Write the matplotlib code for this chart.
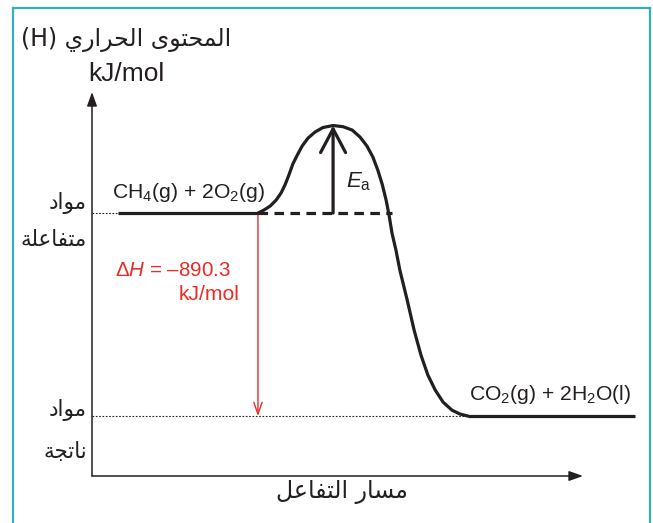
import matplotlib
matplotlib.use("Agg")
import matplotlib.pyplot as plt
from matplotlib.patches import FancyArrowPatch
from matplotlib.lines import Line2D

plt.rcParams["font.family"] = ["Liberation Sans", "DejaVu Sans"]
plt.rcParams["mathtext.fontset"] = "custom"
plt.rcParams["mathtext.rm"] = "Liberation Sans"
plt.rcParams["mathtext.it"] = "Liberation Sans:italic"

# energy levels (kJ/mol, reactants = 0)
E_REACT = 0.0
E_PROD = -890.3
# reaction progress (0-10) of the flat parts
REACT_X = [0.53, 3.38]
PROD_X = [7.66, 11.06]
DASH_END = 6.11
PEAK_X = 4.91
PEAK_E = 384

# barrier curve
curve_x = [3.38, 3.50, 3.63, 3.75, 3.85, 3.93, 4.01, 4.09, 4.18, 4.28, 4.40,
           4.54, 4.70, 4.91, 5.11, 5.30, 5.46, 5.60, 5.72, 5.82, 5.91, 5.99,
           6.05, 6.11, 6.19, 6.27, 6.42, 6.56, 6.70, 6.84, 6.99, 7.15, 7.33,
           7.49, 7.66]
curve_e = [0, 13, 31, 57, 88, 123, 167, 215, 254, 294, 329,
           355, 375, 384, 379, 364, 333, 294, 246, 189, 127, 57,
           -9, -88, -162, -250, -382, -513, -623, -710, -776, -829, -864,
           -881, -890.3]

reactant_label = r"CH$_4$(g) + 2O$_2$(g)"
product_label = r"CO$_2$(g) + 2H$_2$O(l)"
dh_label = r"$\Delta\mathit{H}$ = –890.3"
unit_label = "kJ/mol"

title_ar = "المحتوى الحراري"
xlabel_ar = "مسار التفاعل"
matter_ar = "مواد"
react_ar = "متفاعلة"
prod_ar = "ناتجة"

FORMS = {
    "ا": ("\uFE8D", "\uFE8E", None, None),
    "د": ("\uFEA9", "\uFEAA", None, None),
    "ر": ("\uFEAD", "\uFEAE", None, None),
    "و": ("\uFEED", "\uFEEE", None, None),
    "ى": ("\uFEEF", "\uFEF0", None, None),
    "ة": ("\uFE93", "\uFE94", None, None),
    "ل": ("\uFEDD", "\uFEDE", "\uFEDF", "\uFEE0"),
    "م": ("\uFEE1", "\uFEE2", "\uFEE3", "\uFEE4"),
    "ح": ("\uFEA1", "\uFEA2", "\uFEA3", "\uFEA4"),
    "ت": ("\uFE95", "\uFE96", "\uFE97", "\uFE98"),
    "ي": ("\uFEF1", "\uFEF2", "\uFEF3", "\uFEF4"),
    "ف": ("\uFED1", "\uFED2", "\uFED3", "\uFED4"),
    "ع": ("\uFEC9", "\uFECA", "\uFECB", "\uFECC"),
    "ن": ("\uFEE5", "\uFEE6", "\uFEE7", "\uFEE8"),
    "ج": ("\uFE9D", "\uFE9E", "\uFE9F", "\uFEA0"),
    "س": ("\uFEB1", "\uFEB2", "\uFEB3", "\uFEB4"),
}


def shape_ar(text):
    # contextual forms + right-to-left order, matplotlib does neither
    out = []
    for i, ch in enumerate(text):
        if ch not in FORMS:
            out.append(ch)
            continue
        prev = text[i - 1] if i > 0 else ""
        nxt = text[i + 1] if i + 1 < len(text) else ""
        joins_prev = prev in FORMS and FORMS[prev][2] is not None
        joins_next = FORMS[ch][2] is not None and nxt in FORMS
        iso, fin, ini, med = FORMS[ch]
        if joins_prev and joins_next:
            out.append(med)
        elif joins_prev:
            out.append(fin)
        elif joins_next:
            out.append(ini)
        else:
            out.append(iso)
    return "".join(out)[::-1]


W, H = 653, 523
fig = plt.figure(figsize=(W / 100, H / 100), dpi=100)

# teal frame, open at the bottom
teal = "#35AEBD"
for xs, ys in [([13, 13], [8, 523]), ([13, 650], [8, 8]), ([650, 650], [8, 523])]:
    fig.add_artist(Line2D([x / W for x in xs], [1 - y / H for y in ys],
                          color=teal, lw=1.6, transform=fig.transFigure))

ax = fig.add_axes([92 / W, 1 - 476 / H, (583 - 92) / W, (476 - 92) / H])
Y_MIN, Y_MAX = -1153, 531
ax.set_xlim(0, 10)
ax.set_ylim(Y_MIN, Y_MAX)
ax.axis("off")

axis_col = "#231F20"
ax.annotate("", xy=(0, Y_MAX), xytext=(0, Y_MIN),
            arrowprops=dict(arrowstyle="-|>,head_length=0.7,head_width=0.25",
                            lw=1.1, color=axis_col, mutation_scale=12, shrinkA=0, shrinkB=0),
            annotation_clip=False)
ax.annotate("", xy=(10, Y_MIN), xytext=(0, Y_MIN),
            arrowprops=dict(arrowstyle="-|>,head_length=0.7,head_width=0.25",
                            lw=1.1, color=axis_col, mutation_scale=12, shrinkA=0, shrinkB=0),
            annotation_clip=False)

# guide lines to the axis
ax.plot([0, REACT_X[0]], [E_REACT, E_REACT], ls=(0, (1.5, 1.5)), lw=0.8, color=axis_col)
ax.plot([0, PROD_X[0]], [E_PROD, E_PROD], ls=(0, (1.5, 1.5)), lw=0.8, color=axis_col)

# energy profile
ax.plot(REACT_X, [E_REACT, E_REACT], color=axis_col, lw=2.3, solid_capstyle="butt")
ax.plot(curve_x, curve_e, color=axis_col, lw=2.3, solid_capstyle="round",
        solid_joinstyle="round")
ax.plot(PROD_X, [E_PROD, E_PROD], color=axis_col, lw=2.3, solid_capstyle="butt", clip_on=False)
ax.plot([REACT_X[1], DASH_END], [E_REACT, E_REACT], color=axis_col, lw=2.3,
        ls=(0, (3, 2)))

# activation energy arrow
ax.add_patch(FancyArrowPatch((PEAK_X, E_REACT), (PEAK_X, PEAK_E),
                             arrowstyle="->,head_length=0.85,head_width=0.45",
                             mutation_scale=20, lw=2.3, color=axis_col,
                             shrinkA=0, shrinkB=0))
ax.text(5.17, 114, r"$\mathit{E}_\mathregular{a}$", fontsize=16, color=axis_col,
        ha="left", va="baseline")

# enthalpy change arrow
red = "#ED2B24"
ax.add_patch(FancyArrowPatch((REACT_X[1], E_REACT), (REACT_X[1], E_PROD),
                             arrowstyle="->,head_length=0.7,head_width=0.25",
                             mutation_scale=12, lw=1.0, color=red,
                             shrinkA=0, shrinkB=0))
ax.text(2.83, -276, dh_label, fontsize=14.8, color=red, ha="right", va="baseline")
ax.text(3.0, -381, unit_label, fontsize=15.2, color=red, ha="right", va="baseline")

# species labels
ax.text(1.97, 66, reactant_label, fontsize=15.2, color=axis_col, ha="center", va="baseline")
ax.text(9.33, -820, product_label, fontsize=15.2, color=axis_col, ha="center",
        va="baseline", clip_on=False)

# Arabic labels
ar = dict(family="DejaVu Sans", color=axis_col, ha="right", va="center")
ax.text(-0.1, 44, shape_ar(matter_ar), fontsize=15.5, **ar)
ax.text(-0.1, -118, shape_ar(react_ar), fontsize=15.5, **ar)
ax.text(-0.1, -864, shape_ar(matter_ar), fontsize=15.5, **ar)
ax.text(-0.1, -1048, shape_ar(prod_ar), fontsize=15.5, **ar)

fig.text(126 / W, 1 - 40 / H, "(H) " + shape_ar(title_ar), fontsize=17,
         family=["DejaVu Sans"], color=axis_col, ha="center", va="center")
fig.text(126 / W, 1 - 74 / H, unit_label, fontsize=19, color=axis_col,
         ha="center", va="center")
fig.text(342 / W, 1 - 492 / H, shape_ar(xlabel_ar), fontsize=17,
         family=["DejaVu Sans"], color=axis_col, ha="center", va="center")

fig.savefig("out.png", dpi=100)
